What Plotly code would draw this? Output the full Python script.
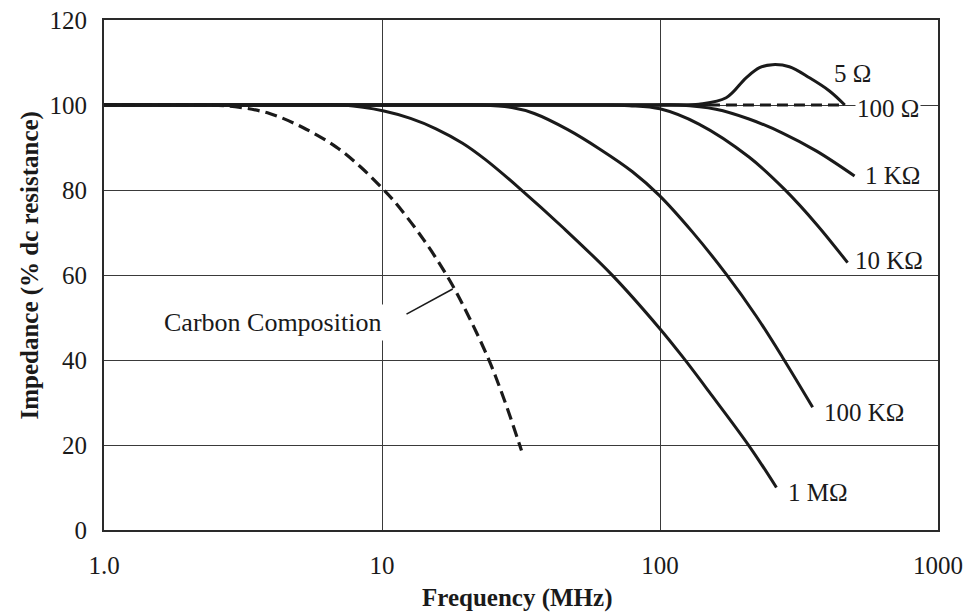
import numpy as np
import plotly.graph_objects as go

# ---- data (frequency in MHz, impedance in % of dc resistance) ----
carbon_f = [1, 2.24, 2.96, 3.94, 5.19, 6.85, 8.38, 9.92, 11.03, 14.07, 17.53, 20.63, 24.28, 27.65, 31.75]
carbon_v = [100, 100, 99.6, 98.0, 94.7, 90.1, 85.4, 80.7, 77.45, 68.45, 58.7, 49.9, 39.9, 30.3, 18.7]

r1M_f = [1, 5.2, 7.27, 10.16, 12.66, 15.64, 19.49, 23.5, 31.24, 45.05, 67.69, 99.2, 120.1, 150.3, 209.6, 262.3]
r1M_v = [100, 100, 100, 98.6, 96.85, 94.4, 91.0, 87.2, 80.4, 71.0, 59.8, 47.6, 40.9, 32.5, 19.7, 10.0]

r100k_f = [1, 17, 22.9, 29.3, 35.3, 46.6, 60.8, 79.6, 99.2, 130.5, 173, 222, 276, 354]
r100k_v = [100, 100, 100, 99.4, 98.0, 94.2, 89.6, 84.3, 78.8, 70.2, 60.2, 50.3, 40.6, 28.9]

r10k_f = [1, 45, 60.8, 77.6, 100, 138, 209, 280, 366, 473]
r10k_v = [100, 100, 100, 99.85, 99.1, 95.5, 87.75, 80.2, 71.9, 62.9]

r1k_f = [1, 95, 117, 159, 209, 276, 366, 501]
r1k_v = [100, 100, 100, 99, 96.7, 93.4, 89.15, 83.3]

r5_f = [1, 100, 117, 138, 173, 204, 228, 254, 292, 345, 407, 462]
r5_v = [100, 100, 100, 100.2, 101.7, 106.4, 108.8, 109.5, 109, 106.4, 103.3, 100]

r100_solid_f = [1, 150]
r100_solid_v = [100, 100]
r100_dash_f = [150, 462]
r100_dash_v = [100, 100]

leader_f = [12.25, 17.96]
leader_v = [50.8, 56.7]

label_text = ["5 Ω", "100 Ω", "1 KΩ", "10 KΩ", "100 KΩ", "1 MΩ"]
label_f = [414, 502, 536, 493, 381, 285]
label_v = [107.4, 99.2, 83.3, 63.3, 27.7, 8.9]

carbon_label = "Carbon Composition"
carbon_label_f = 4.03
carbon_label_v = 48.9

x_tickvals = [1, 10, 100, 1000]
x_ticktext = ["1.0", "10", "100", "1000"]
y_tickvals = [0, 20, 40, 60, 80, 100, 120]

x_title = "Frequency (MHz)"
y_title = "Impedance (% dc resistance)"

# ---- figure ----
FONT = "Liberation Serif, Times New Roman, serif"
INK = "#1a1a1a"
fig = go.Figure()

def curve(xs, ys, dash="solid", width=3.0, shape="spline"):
    fig.add_trace(go.Scatter(
        x=xs, y=ys, mode="lines",
        line=dict(color=INK, width=width, dash=dash, shape=shape, smoothing=1.0),
        showlegend=False, hoverinfo="skip"))

curve(r100_solid_f, r100_solid_v, shape="linear")
curve(r100_dash_f, r100_dash_v, dash="11px,6px", shape="linear")
curve(r5_f, r5_v)
curve(r1k_f, r1k_v)
curve(r10k_f, r10k_v)
curve(r100k_f, r100k_v)
curve(r1M_f, r1M_v)
curve(carbon_f, carbon_v, dash="12px,6px", width=3.2)
curve(leader_f, leader_v, width=1.6, shape="linear")

for t, f, v in zip(label_text, label_f, label_v):
    fig.add_annotation(x=np.log10(f), y=v, text=t, showarrow=False,
                       xanchor="left", yanchor="middle",
                       font=dict(family=FONT, size=25, color=INK),
                       bgcolor="white" if t == "100 Ω" else None, borderpad=1)

fig.add_annotation(x=np.log10(carbon_label_f), y=carbon_label_v, text=carbon_label,
                   showarrow=False, xanchor="center", yanchor="middle",
                   font=dict(family=FONT, size=26, color=INK),
                   bgcolor="white", borderpad=3)

fig.add_annotation(xref="paper", yref="paper", x=0.495, y=-0.133, text="<b>" + x_title + "</b>",
                   showarrow=False, xanchor="center", yanchor="middle",
                   font=dict(family=FONT, size=25, color=INK))
fig.add_annotation(xref="paper", yref="paper", x=-0.089, y=0.52, text="<b>" + y_title + "</b>",
                   showarrow=False, xanchor="center", yanchor="middle", textangle=-90,
                   font=dict(family=FONT, size=25, color=INK))

fig.update_xaxes(type="log", range=[0, 3], tickvals=x_tickvals, ticktext=x_ticktext,
                 showgrid=True, gridcolor="#3a3a3a", gridwidth=1.2,
                 showline=True, mirror=True, linecolor="#2a2a2a", linewidth=2,
                 ticks="outside", ticklen=12, tickcolor="rgba(0,0,0,0)",
                 tickfont=dict(family=FONT, size=25, color=INK), zeroline=False,
                 automargin=False)
fig.update_yaxes(range=[0, 120], tickvals=y_tickvals,
                 showgrid=True, gridcolor="#3a3a3a", gridwidth=1.2,
                 showline=True, mirror=True, linecolor="#2a2a2a", linewidth=2,
                 ticks="outside", ticklen=10, tickcolor="rgba(0,0,0,0)",
                 tickfont=dict(family=FONT, size=25, color=INK), zeroline=False,
                 automargin=False)

fig.update_layout(width=976, height=612, paper_bgcolor="white", plot_bgcolor="white",
                  margin=dict(l=104, r=38, t=20, b=82), showlegend=False)

fig.write_html("out.html", config={"displayModeBar": False},
               post_script="document.body.style.margin='0';document.body.style.overflow='hidden';")
